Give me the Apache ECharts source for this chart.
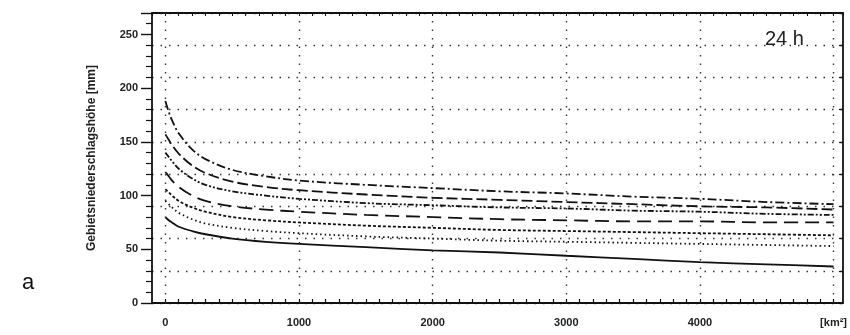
<!DOCTYPE html>
<html>
<head>
<meta charset="utf-8">
<script src="https://cdn.jsdelivr.net/npm/echarts@6/dist/echarts.min.js"></script>
<style>
  html, body { margin: 0; padding: 0; background: #fff; }
  #chart { width: 850px; height: 335px; }
</style>
</head>
<body>
<div id="chart"></div>
<script>
// Catchment area [km²] at which the curves are sampled
const areaKm2 = [0, 25, 50, 100, 200, 300, 500, 750, 1000, 1500, 2000, 2500, 3000, 3500, 4000, 4500, 5000];

// Areal precipitation depth [mm], 24 h, one array per curve (top to bottom)
const curve1 = [188, 178, 170, 158, 143, 134, 124, 118, 114, 110, 107, 104, 102, 99, 97, 94, 92];
const curve2 = [157, 152, 147, 139, 128, 121, 113, 108, 105, 101, 98, 96, 94, 92, 90, 89, 87];
const curve3 = [140, 136, 132, 125, 116, 110, 104, 100, 97, 93, 91, 89, 88, 86, 85, 83, 82];
const curve4 = [122, 118, 114, 108, 100, 95, 90, 87, 85, 82, 80, 78, 77, 76, 76, 75, 75];
const curve5 = [106, 103, 100, 95, 89, 85, 80, 77, 75, 72, 70, 68, 67, 66, 65, 64, 63];
const curve6 = [95, 92, 89, 84, 78, 74, 70, 67, 65, 62, 60, 58, 57, 56, 55, 54, 53];
const curve7 = [80, 77, 75, 71, 67, 64, 60, 57, 55, 52, 49, 47, 44, 41, 38, 36, 34];

// Axis labelling
const xLabelValues = [0, 1000, 2000, 3000, 4000];
const xUnitLabel = '[km²]';
const xUnitAt = 5000;
const xGridValues = [0, 1000, 2000, 3000, 4000, 5000];
const yAxisName = 'Gebietsniederschlagshöhe [mm]';
const durationText = '24 h';
const panelLetter = 'a';

const curves = [curve1, curve2, curve3, curve4, curve5, curve6, curve7];
const dashes = [
  [9, 3, 2, 3],
  [11, 4],
  [6, 2, 2, 2, 2, 2],
  [14, 7],
  [3, 2],
  [1.5, 3],
  'solid'
];

const ink = '#111';
const gridDots = { color: '#333', width: 1.4, type: [1.5, 7] };

const series = curves.map((vals, i) => ({
  type: 'line',
  data: areaKm2.map((a, k) => [a, vals[k]]),
  smooth: 0.35,
  showSymbol: false,
  lineStyle: { color: ink, width: 1.8, type: dashes[i] },
  z: 3
}));

// Vertical dotted grid lines at every 1000 km²
series.push({
  type: 'line',
  data: [],
  markLine: {
    silent: true,
    symbol: 'none',
    label: { show: false },
    lineStyle: gridDots,
    data: xGridValues.map(v => ({ xAxis: v }))
  }
});

const chart = echarts.init(document.getElementById('chart'), null, { renderer: 'canvas' });
chart.setOption({
  animation: false,
  backgroundColor: '#fff',
  grid: { left: 152, right: 5, top: 13, bottom: 32 },
  xAxis: [
    {
      type: 'value', min: -100, max: 5070, interval: 100,
      axisLine: { show: true, onZero: false, lineStyle: { color: ink, width: 1.8 } },
      axisTick: { show: true, inside: true, length: 4, lineStyle: { color: ink, width: 1.2 } },
      splitLine: { show: false },
      axisLabel: {
        margin: 14, color: '#222', fontSize: 11, fontWeight: 'bold', fontFamily: 'Liberation Sans',
        showMinLabel: false, showMaxLabel: false, hideOverlap: false,
        formatter: v => (v === xUnitAt ? xUnitLabel : (xLabelValues.indexOf(v) >= 0 ? String(v) : ''))
      }
    },
    {
      type: 'value', position: 'top', min: -100, max: 5070, interval: 100,
      axisLine: { show: true, onZero: false, lineStyle: { color: ink, width: 1.8 } },
      axisTick: { show: true, inside: true, length: 3, lineStyle: { color: ink, width: 1 } },
      splitLine: { show: false },
      axisLabel: { show: false }
    }
  ],
  yAxis: [
    {
      type: 'value', min: 0, max: 270, interval: 50,
      name: yAxisName, nameLocation: 'middle', nameGap: 54, nameRotate: 90,
      nameTextStyle: { color: '#222', fontSize: 12, fontWeight: 'bold', fontFamily: 'Liberation Sans' },
      axisLine: { show: true, onZero: false, lineStyle: { color: ink, width: 1.8 } },
      axisTick: { show: true, length: 11, lineStyle: { color: ink, width: 1.4 } },
      minorTick: { show: true, splitNumber: 5, length: 6, lineStyle: { color: ink, width: 1.2 } },
      splitLine: { show: false },
      axisLabel: {
        margin: 14, color: '#222', fontSize: 11, fontWeight: 'bold', fontFamily: 'Liberation Sans',
        showMaxLabel: false
      }
    },
    {
      type: 'value', position: 'right', min: 0, max: 270, interval: 30,
      axisLine: { show: true, onZero: false, lineStyle: { color: ink, width: 1.8 } },
      axisTick: { show: true, inside: true, length: 4, lineStyle: { color: ink, width: 1.2 } },
      splitLine: { show: true, lineStyle: gridDots },
      axisLabel: { show: false }
    }
  ],
  graphic: [
    {
      type: 'text', left: 22, top: 272,
      style: { text: panelLetter, fontSize: 22, fontFamily: 'Liberation Sans', fill: '#111' }
    },
    {
      type: 'text', left: 765, top: 29,
      style: { text: durationText, fontSize: 20, fontFamily: 'Liberation Sans', fill: '#222' }
    }
  ],
  series: series
});
</script>
</body>
</html>
